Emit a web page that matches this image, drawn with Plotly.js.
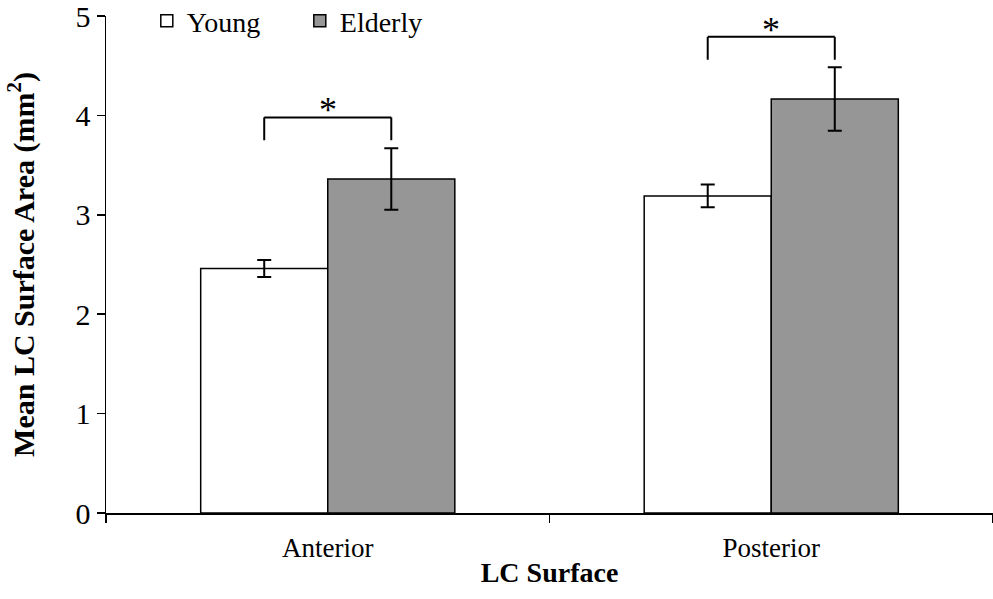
<!DOCTYPE html>
<html>
<head>
<meta charset="utf-8">
<script src="https://cdn.plot.ly/plotly-3.0.1.min.js"></script>
<style>html,body{margin:0;padding:0;background:#fff;}</style>
</head>
<body>
<div id="chart" style="width:993px;height:599px;"></div>
<script>
const categories = ["Anterior", "Posterior"];
const seriesNames = ["Young", "Elderly"];
const youngMeans = [2.46, 3.19];
const youngErr = [0.085, 0.115];
const elderlyMeans = [3.36, 4.165];
const elderlyErr = [0.31, 0.32];
const bracketTop = [3.98, 4.79];
const bracketBottom = [3.75, 4.56];
const sigLabels = ["*", "*"];
const yTicks = [0, 1, 2, 3, 4, 5];

const FONT = 'Liberation Serif, Times New Roman, serif';
const BARGAP = 0.427;
const half = (1 - BARGAP) / 4; // offset of each bar centre in a 2-bar group

const traces = [
  {
    type: 'bar', name: seriesNames[0], x: categories, y: youngMeans,
    marker: {color: '#ffffff', line: {color: '#000000', width: 1.5}},
    error_y: {type: 'data', array: youngErr, visible: true, color: '#000000', thickness: 2, width: 7}
  },
  {
    type: 'bar', name: seriesNames[1], x: categories, y: elderlyMeans,
    marker: {color: '#969696', line: {color: '#000000', width: 1.5}},
    error_y: {type: 'data', array: elderlyErr, visible: true, color: '#000000', thickness: 2, width: 7}
  }
];

const shapes = [];
const annotations = [];
categories.forEach((c, i) => {
  const xl = i - half, xr = i + half;
  const line = {color: '#000000', width: 2};
  shapes.push({type: 'line', xref: 'x', yref: 'y', x0: xl, x1: xl, y0: bracketBottom[i], y1: bracketTop[i], line});
  shapes.push({type: 'line', xref: 'x', yref: 'y', x0: xl, x1: xr, y0: bracketTop[i], y1: bracketTop[i], line});
  shapes.push({type: 'line', xref: 'x', yref: 'y', x0: xr, x1: xr, y0: bracketBottom[i], y1: bracketTop[i], line});
  annotations.push({xref: 'x', yref: 'y', x: i, y: bracketTop[i], text: sigLabels[i], showarrow: false,
    yanchor: 'bottom', yshift: -15, font: {family: FONT, size: 36, color: '#000'}});
});

const layout = {
  width: 993, height: 599,
  margin: {l: 106, r: 0, t: 16, b: 86, autoexpand: false},
  paper_bgcolor: '#ffffff', plot_bgcolor: '#ffffff',
  font: {family: FONT, color: '#000000', size: 26},
  barmode: 'group', bargap: BARGAP, bargroupgap: 0,
  showlegend: true,
  legend: {orientation: 'h', x: 0.046, xanchor: 'left', y: 1.04, yanchor: 'top',
    entrywidth: 108, entrywidthmode: 'pixels',
    font: {family: FONT, size: 28, color: '#000'}, bgcolor: 'rgba(0,0,0,0)', traceorder: 'normal'},
  xaxis: {
    type: 'category', range: [-0.5, 1.5], showgrid: false, zeroline: false,
    showline: true, linecolor: '#000', linewidth: 1.5,
    ticks: 'outside', tickson: 'boundaries', ticklen: 8, tickwidth: 1.5, tickcolor: '#000',
    ticklabelstandoff: 10, ticklabeloverflow: 'allow',
    tickfont: {family: FONT, size: 27, color: '#000'},
    title: {text: '<b>LC Surface</b>', font: {family: FONT, size: 28, color: '#000'}, standoff: 0}
  },
  yaxis: {
    range: [0, 5], tickvals: yTicks, showgrid: false, zeroline: false,
    showline: true, linecolor: '#000', linewidth: 1.5,
    ticks: 'outside', ticklen: 8, tickwidth: 1.5, tickcolor: '#000',
    ticklabeloverflow: 'allow',
    tickfont: {family: FONT, size: 30, color: '#000'},
    title: {text: '<b>Mean LC Surface Area (mm<sup>2</sup>)</b>', font: {family: FONT, size: 30, color: '#000'}, standoff: 32}
  },
  shapes: shapes,
  annotations: annotations
};

Plotly.newPlot('chart', traces, layout, {displayModeBar: false, staticPlot: true});
</script>
</body>
</html>
